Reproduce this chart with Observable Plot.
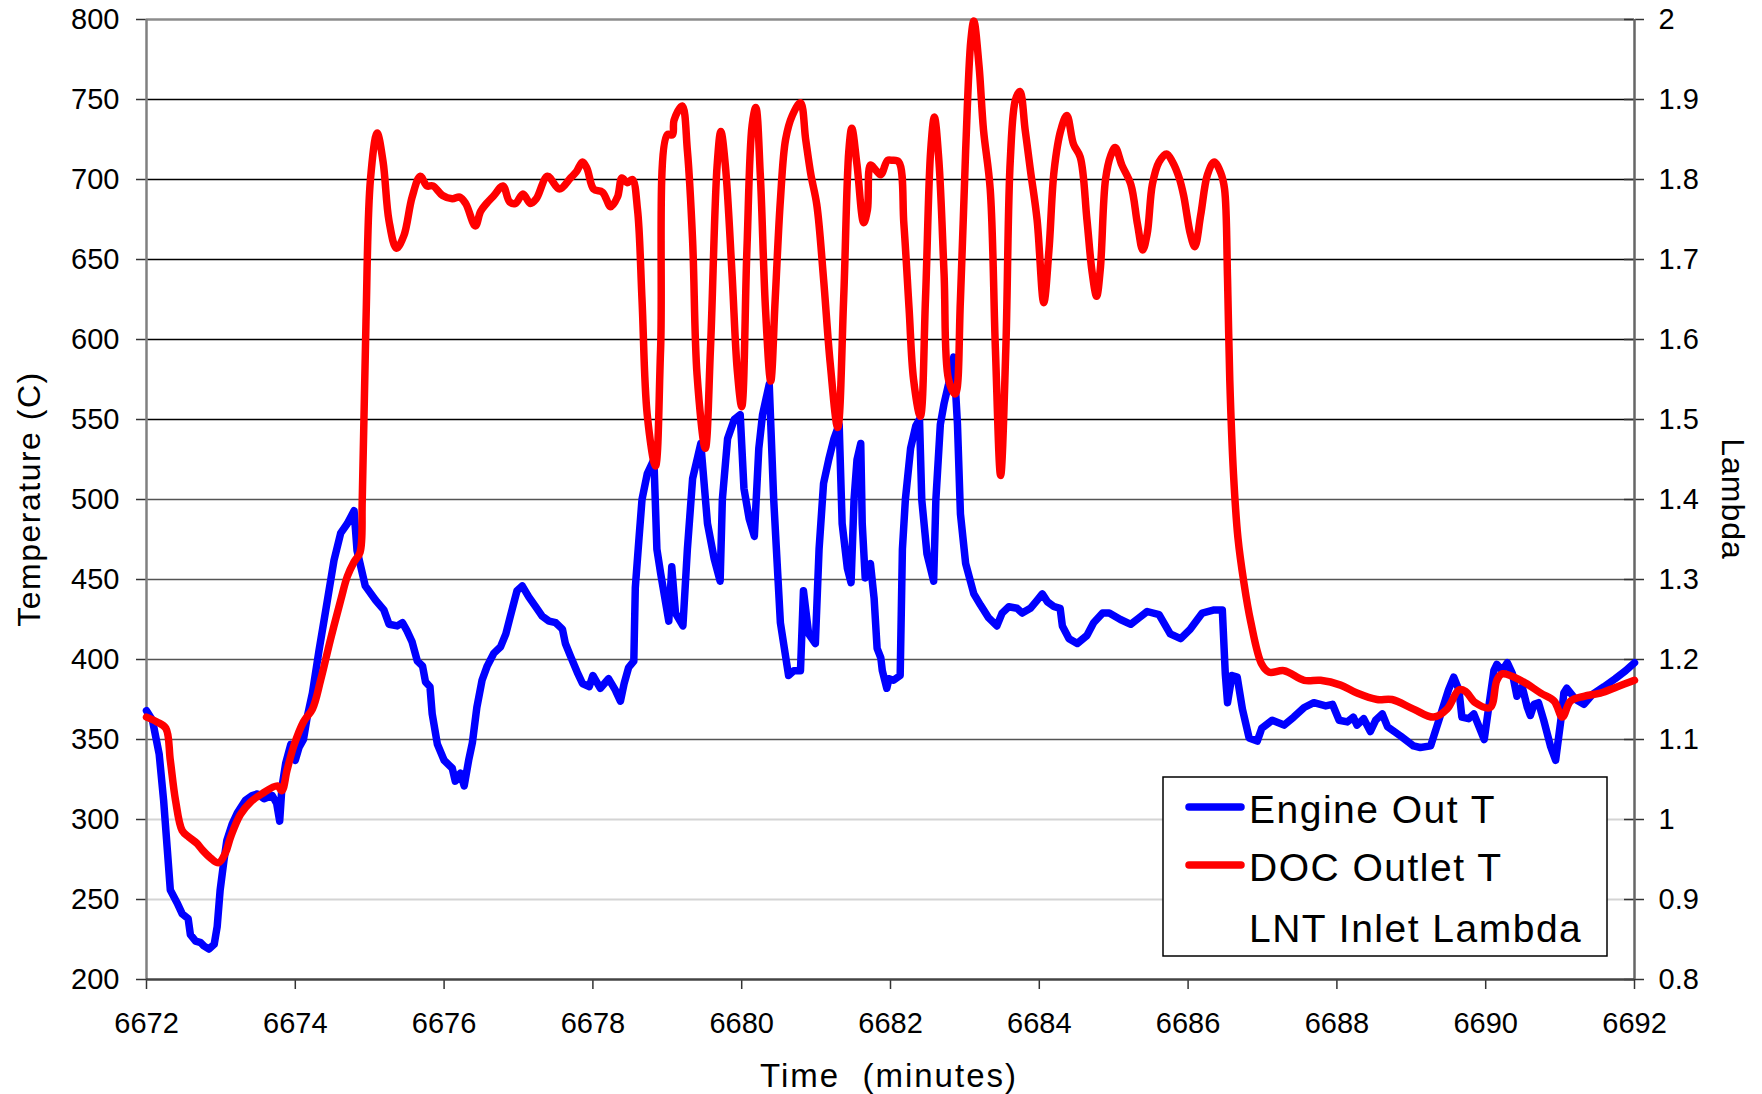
<!DOCTYPE html>
<html>
<head>
<meta charset="utf-8">
<script src="https://cdn.jsdelivr.net/npm/d3@7"></script>
<script src="https://cdn.jsdelivr.net/npm/@observablehq/plot@0.6"></script>
<style>
  html, body { margin: 0; padding: 0; background: #fff; }
  #chart { position: relative; width: 1762px; height: 1094px; }
</style>
</head>
<body>
<div id="chart"></div>
<script>
// ---------------- data ----------------
const engineTime = [6672.00,6672.08,6672.17,6672.23,6672.28,6672.32,6672.41,6672.48,6672.56,6672.59,6672.66,6672.73,6672.77,6672.84,6672.91,6672.95,6672.99,6673.04,6673.08,6673.15,6673.22,6673.33,6673.42,6673.49,6673.58,6673.69,6673.75,6673.79,6673.82,6673.87,6673.94,6674.00,6674.05,6674.11,6674.16,6674.23,6674.32,6674.41,6674.52,6674.61,6674.70,6674.79,6674.83,6674.88,6674.94,6675.08,6675.19,6675.26,6675.37,6675.44,6675.50,6675.57,6675.64,6675.71,6675.75,6675.81,6675.84,6675.91,6676.00,6676.11,6676.15,6676.22,6676.27,6676.33,6676.38,6676.44,6676.51,6676.58,6676.67,6676.76,6676.83,6676.89,6676.98,6677.05,6677.14,6677.23,6677.32,6677.41,6677.50,6677.59,6677.63,6677.70,6677.79,6677.86,6677.95,6678.00,6678.10,6678.21,6678.30,6678.37,6678.42,6678.48,6678.55,6678.57,6678.62,6678.66,6678.73,6678.82,6678.86,6678.91,6679.02,6679.06,6679.11,6679.21,6679.27,6679.34,6679.40,6679.45,6679.54,6679.63,6679.71,6679.74,6679.81,6679.90,6679.98,6680.03,6680.10,6680.17,6680.23,6680.28,6680.37,6680.43,6680.52,6680.63,6680.70,6680.79,6680.83,6680.90,6680.99,6681.04,6681.10,6681.17,6681.24,6681.31,6681.35,6681.42,6681.47,6681.51,6681.55,6681.60,6681.62,6681.66,6681.73,6681.78,6681.82,6681.87,6681.89,6681.95,6681.98,6682.04,6682.13,6682.16,6682.20,6682.27,6682.34,6682.39,6682.42,6682.49,6682.58,6682.61,6682.67,6682.72,6682.78,6682.85,6682.90,6682.94,6683.01,6683.12,6683.21,6683.32,6683.43,6683.50,6683.59,6683.70,6683.77,6683.88,6683.97,6684.04,6684.11,6684.20,6684.28,6684.31,6684.40,6684.51,6684.64,6684.73,6684.85,6684.94,6685.09,6685.23,6685.34,6685.45,6685.61,6685.76,6685.90,6686.03,6686.19,6686.35,6686.46,6686.50,6686.53,6686.59,6686.66,6686.73,6686.82,6686.93,6686.99,6687.13,6687.29,6687.42,6687.56,6687.69,6687.85,6687.94,6688.03,6688.14,6688.22,6688.27,6688.36,6688.45,6688.52,6688.61,6688.68,6688.86,6689.03,6689.12,6689.26,6689.37,6689.50,6689.57,6689.64,6689.68,6689.77,6689.84,6689.91,6689.98,6690.04,6690.11,6690.15,6690.22,6690.29,6690.36,6690.42,6690.49,6690.56,6690.60,6690.65,6690.71,6690.78,6690.87,6690.94,6691.01,6691.05,6691.09,6691.21,6691.32,6691.43,6691.59,6691.74,6691.88,6692.00];
const engineTemp = [368,362,341,312,281,256,248,241,238,228,224,223,221,219,222,233,256,274,287,297,304,312,315,316,313,315,310,299,320,335,347,337,345,350,364,379,406,431,462,479,485,493,468,458,446,437,431,422,421,423,418,411,399,396,386,383,366,347,337,332,324,329,321,337,348,370,387,396,404,408,416,427,443,446,439,433,427,424,423,419,410,402,392,385,383,390,382,388,381,374,385,395,399,445,476,500,516,525,469,454,424,458,429,421,469,513,525,535,485,463,449,500,538,550,553,507,488,477,532,553,572,500,423,390,393,393,443,416,410,469,510,525,538,547,485,457,448,500,525,535,485,451,460,438,407,401,393,382,388,387,390,469,500,532,546,550,500,466,449,500,547,560,572,589,547,491,460,441,434,426,421,429,433,432,429,432,437,441,436,433,432,421,413,410,415,423,429,429,425,422,426,430,428,416,413,419,429,431,431,391,373,390,389,369,351,349,357,362,359,364,370,373,371,372,362,361,364,359,363,355,362,366,358,352,346,345,346,362,381,389,381,364,363,366,358,350,370,393,397,393,398,391,377,383,370,365,372,373,362,346,337,362,379,382,375,372,378,383,388,393,398];

const docTime = [6672.00,6672.14,6672.26,6672.32,6672.39,6672.48,6672.57,6672.68,6672.75,6672.86,6672.97,6673.06,6673.13,6673.26,6673.40,6673.55,6673.76,6673.82,6673.89,6673.98,6674.11,6674.23,6674.34,6674.47,6674.61,6674.70,6674.79,6674.87,6674.90,6674.95,6675.01,6675.10,6675.18,6675.26,6675.36,6675.46,6675.57,6675.68,6675.77,6675.85,6675.98,6676.11,6676.21,6676.29,6676.42,6676.49,6676.57,6676.67,6676.79,6676.88,6676.96,6677.06,6677.16,6677.24,6677.39,6677.55,6677.70,6677.78,6677.86,6677.92,6678.01,6678.13,6678.24,6678.33,6678.39,6678.46,6678.53,6678.60,6678.66,6678.73,6678.84,6678.91,6679.00,6679.07,6679.09,6679.20,6679.27,6679.34,6679.40,6679.51,6679.58,6679.67,6679.72,6679.78,6679.87,6679.94,6680.00,6680.07,6680.14,6680.19,6680.25,6680.32,6680.39,6680.45,6680.52,6680.59,6680.68,6680.79,6680.86,6680.93,6681.01,6681.10,6681.19,6681.29,6681.37,6681.44,6681.48,6681.55,6681.64,6681.69,6681.73,6681.80,6681.87,6681.96,6682.02,6682.11,6682.18,6682.25,6682.31,6682.40,6682.47,6682.54,6682.59,6682.65,6682.72,6682.78,6682.87,6682.94,6683.01,6683.08,6683.12,6683.19,6683.25,6683.34,6683.41,6683.48,6683.55,6683.61,6683.68,6683.74,6683.81,6683.88,6683.97,6684.06,6684.13,6684.20,6684.29,6684.37,6684.46,6684.55,6684.64,6684.71,6684.77,6684.82,6684.89,6684.96,6685.02,6685.11,6685.23,6685.32,6685.39,6685.45,6685.52,6685.61,6685.71,6685.79,6685.88,6685.94,6686.03,6686.09,6686.17,6686.26,6686.35,6686.44,6686.49,6686.53,6686.56,6686.61,6686.67,6686.75,6686.84,6686.99,6687.09,6687.29,6687.56,6687.78,6688.05,6688.27,6688.54,6688.74,6689.03,6689.30,6689.48,6689.64,6689.73,6689.86,6690.06,6690.15,6690.22,6690.47,6690.74,6690.92,6691.03,6691.14,6691.32,6691.54,6691.77,6692.00];
const docTemp = [364,361,357,337,312,293,289,285,281,276,273,279,289,303,311,316,321,318,331,346,361,369,387,412,437,452,461,467,500,611,700,729,711,674,657,665,689,702,696,696,690,688,689,685,671,680,685,690,696,686,685,691,685,688,702,694,701,705,711,707,694,692,683,689,701,698,700,681,625,553,521,594,728,728,737,746,718,662,578,532,594,709,730,709,641,581,558,656,734,745,703,619,574,625,687,725,740,748,725,703,684,638,585,545,625,718,732,709,673,681,709,706,703,712,712,711,672,619,575,552,625,718,739,712,641,575,566,625,718,787,799,771,731,694,594,515,594,712,750,755,731,706,675,623,656,706,731,740,722,714,675,642,627,644,700,715,720,709,697,672,656,666,697,711,716,711,701,690,666,658,678,703,711,704,694,638,575,516,476,448,424,397,392,393,387,387,384,379,375,375,369,364,369,381,380,373,370,387,391,387,379,374,364,374,377,379,383,387];

const xTicks = [6672,6674,6676,6678,6680,6682,6684,6686,6688,6690,6692];
const tempTicks = [200,250,300,350,400,450,500,550,600,650,700,750,800];
const lambdaTicks = [0.8,0.9,1,1.1,1.2,1.3,1.4,1.5,1.6,1.7,1.8,1.9,2];
const lambdaLabels = ["0.8","0.9","1","1.1","1.2","1.3","1.4","1.5","1.6","1.7","1.8","1.9","2"];
const gridBlack = [550,600,650,700,750];
const gridGray = [350,400,450,500];
const gridLight = [250,300];
const seriesNames = ["Engine Out T","DOC Outlet T","LNT Inlet Lambda"];
const seriesColors = ["#0000ff","#ff0000","#ffffff"];
const titleY = "Temperature (C)";
const titleY2 = "Lambda";
const titleX = "Time  (minutes)";

// lambda axis (0.8 .. 2) shares the temperature axis (200 .. 800)
const lambdaToTemp = l => 200 + (l - 0.8) * 500;

const engine = engineTime.map((t, i) => ({t, v: engineTemp[i]}));
const doc = docTime.map((t, i) => ({t, v: docTemp[i]}));

const W = 1762, H = 1094;
const mL = 146, mR = 128, mT = 19, mB = 115;
const frameW = W - mL - mR;
const font = "'Liberation Sans', Arial, Helvetica, sans-serif";

const chart = Plot.plot({
  width: W, height: H,
  marginLeft: mL, marginRight: mR, marginTop: mT, marginBottom: mB,
  style: `font-family: ${font}; font-size: 29px; color: #000; background: #fff; overflow: visible;`,
  x: {domain: [6672, 6692]},
  y: {domain: [200, 800]},
  marks: [
    Plot.ruleY(gridLight, {stroke: "#d4d4d4", strokeWidth: 2}),
    Plot.ruleY(gridGray, {stroke: "#555", strokeWidth: 1.6}),
    Plot.ruleY(gridBlack, {stroke: "#000", strokeWidth: 1.3}),
    Plot.ruleY([800], {stroke: "#8c8c8c", strokeWidth: 2.5}),
    Plot.axisY(tempTicks, {anchor: "left", tickSize: 10, tickPadding: 17, label: null, stroke: "#333", strokeWidth: 1.5, tickFormat: "d"}),
    Plot.axisX(xTicks, {anchor: "bottom", tickSize: 10, tickPadding: 23, label: null, stroke: "#333", strokeWidth: 1.5, tickFormat: "d"}),
    Plot.axisY(lambdaTicks.map(lambdaToTemp), {anchor: "right", tickSize: 9, tickPadding: 15, label: null, stroke: "#333", strokeWidth: 1.5,
      tickFormat: (d, i) => lambdaLabels[i]}),
    Plot.tickY(lambdaTicks.map(lambdaToTemp), {insetLeft: frameW - 10, stroke: "#333", strokeWidth: 1.5}),
    Plot.ruleX([6672], {stroke: "#808080", strokeWidth: 2.5}),
    Plot.ruleX([6692], {stroke: "#666", strokeWidth: 2.5}),
    Plot.ruleY([200], {stroke: "#444", strokeWidth: 2.5}),
    Plot.line(engine, {x: "t", y: "v", stroke: seriesColors[0], strokeWidth: 7.5, strokeLinejoin: "round", strokeLinecap: "round"}),
    Plot.line(doc, {x: "t", y: "v", stroke: seriesColors[1], strokeWidth: 7.5, strokeLinejoin: "round", strokeLinecap: "round", curve: "catmull-rom"})
  ]
});

document.getElementById("chart").appendChild(chart);
const svg = d3.select(chart);

// axis titles
svg.append("text").attr("transform", "translate(40,499) rotate(-90)")
  .attr("text-anchor", "middle").attr("font-size", 32).attr("letter-spacing", 1.5)
  .attr("font-family", font).attr("fill", "#000").text(titleY);
svg.append("text").attr("transform", "translate(1722,499) rotate(90)")
  .attr("text-anchor", "middle").attr("font-size", 32).attr("letter-spacing", 1)
  .attr("font-family", font).attr("fill", "#000").text(titleY2);
svg.append("text").attr("x", 889).attr("y", 1087)
  .attr("text-anchor", "middle").attr("font-size", 33).attr("letter-spacing", 2)
  .attr("font-family", font).attr("fill", "#000").style("white-space", "pre").attr("xml:space", "preserve").text(titleX);

// legend box
const lg = svg.append("g").attr("transform", "translate(1163,777)");
lg.append("rect").attr("width", 444).attr("height", 179).attr("fill", "#fff").attr("stroke", "#000").attr("stroke-width", 1.5);
const rowY = [30, 88, 150];
const baseY = [46, 104, 165];
seriesNames.forEach((name, i) => {
  lg.append("line").attr("x1", 26).attr("x2", 78).attr("y1", rowY[i]).attr("y2", rowY[i])
    .attr("stroke", seriesColors[i]).attr("stroke-width", 7.5).attr("stroke-linecap", "round");
  lg.append("text").attr("x", 86).attr("y", baseY[i]).attr("font-size", 39).attr("letter-spacing", 1.5)
    .attr("text-anchor", "start").attr("font-family", font).attr("fill", "#000").text(name);
});
</script>
</body>
</html>
